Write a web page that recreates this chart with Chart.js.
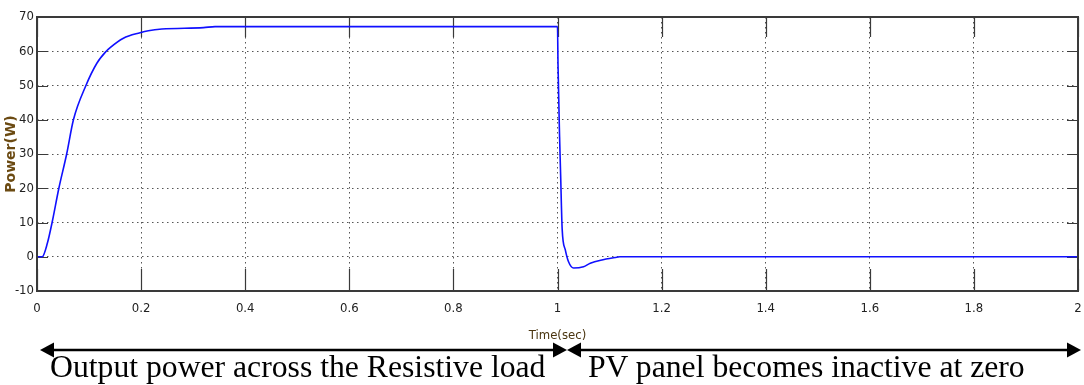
<!DOCTYPE html>
<html>
<head>
<meta charset="utf-8">
<title>Power(W) vs Time(sec)</title>
<script src="https://cdn.jsdelivr.net/npm/chart.js@4.4.1/dist/chart.umd.min.js"></script>
<style>
  html, body { margin: 0; padding: 0; background: #fff; overflow: hidden; }
  #wrap { position: relative; width: 1084px; height: 385px; }
  #chartBox { position: absolute; left: 0; top: 0; width: 1084px; height: 345px; }
  #arrows { position: absolute; left: 0; top: 0; }
  .note {
    position: absolute;
    font-family: "Liberation Serif", "Times New Roman", serif;
    font-size: 31.7px;
    line-height: 32px;
    color: #000;
    white-space: nowrap;
  }
</style>
</head>
<body>
<div id="wrap">
  <div id="chartBox"><canvas id="powerChart"></canvas></div>
  <svg id="arrows" width="1084" height="385">
    <g fill="#000" stroke="#000">
      <line x1="50" y1="350" x2="555" y2="350" stroke-width="2.5"/>
      <polygon points="40,350 54,342.5 54,357.5" stroke="none"/>
      <polygon points="567,350 553,342.5 553,357.5" stroke="none"/>
      <line x1="579" y1="350" x2="1070" y2="350" stroke-width="2.5"/>
      <polygon points="567,350 581,342.5 581,357.5" stroke="none"/>
      <polygon points="1081,350 1067,342.5 1067,357.5" stroke="none"/>
    </g>
  </svg>
  <div class="note" style="left:50px; top:351px;">Output power across the Resistive load</div>
  <div class="note" style="left:588px; top:351px;">PV panel becomes inactive at zero</div>
</div>

<script>
// values
const timeSec = [
    0, 0.01, 0.02, 0.029, 0.042, 0.057, 0.07, 0.094, 0.115, 0.133, 0.14,
    0.166, 0.198, 0.214, 0.24, 0.32, 0.342, 1.0,
    1.001, 1.004, 1.006, 1.009, 1.015, 1.021, 1.031, 1.05, 1.063, 1.083,
    1.111, 1.12, 2.0
];
const powerW = [
    0, 0, 4, 10, 20, 30, 40, 50, 56.5, 60, 61,
    63.8, 65.4, 66.0, 66.5, 66.9, 67.2, 67.2,
    56, 35, 24, 8, 2, -1.4, -3.3, -2.9, -1.9, -1.0,
    -0.2, 0, 0
];
const xTickValues = [0, 0.2, 0.4, 0.6, 0.8, 1, 1.2, 1.4, 1.6, 1.8, 2];
const yTickValues = [-10, 0, 10, 20, 30, 40, 50, 60, 70];

const tickFont = { family: "'Liberation Sans Narrow', 'DejaVu Sans Condensed', 'Arial Narrow', 'Liberation Sans', sans-serif", size: 13 };

// MATLAB style frame with ticks pointing inward
const matlabAxes = {
    id: 'matlabAxes',
    beforeDatasetsDraw(chart) {
        const { ctx, chartArea: a, scales: { x, y } } = chart;
        ctx.save();
        ctx.strokeStyle = '#3a3a3a';
        ctx.lineWidth = 1.2;
        ctx.setLineDash([]);
        ctx.beginPath();
        x.ticks.forEach(t => {
            const px = Math.round(x.getPixelForValue(t.value)) + 0.5;
            ctx.moveTo(px, a.bottom);
            ctx.lineTo(px, a.bottom - 22);
            ctx.moveTo(px, a.top);
            ctx.lineTo(px, a.top + 20);
        });
        y.ticks.forEach(t => {
            const py = Math.round(y.getPixelForValue(t.value)) + 0.5;
            ctx.moveTo(a.left, py);
            ctx.lineTo(a.left + 11, py);
            ctx.moveTo(a.right, py);
            ctx.lineTo(a.right - 11, py);
        });
        ctx.stroke();
        ctx.restore();
    },
    afterDatasetsDraw(chart) {
        const { ctx, chartArea: a } = chart;
        ctx.save();
        ctx.strokeStyle = '#3a3a3a';
        ctx.lineWidth = 2;
        ctx.setLineDash([]);
        ctx.strokeRect(a.left, a.top, a.right - a.left, a.bottom - a.top);
        ctx.restore();
    }
};

const ctx = document.getElementById('powerChart').getContext('2d');
window.powerChart = new Chart(ctx, {
    type: 'scatter',
    data: {
        datasets: [{
            label: 'Power(W)',
            data: timeSec.map((t, i) => ({ x: t, y: powerW[i] })),
            showLine: true,
            borderColor: '#1010ff',
            borderWidth: 1.6,
            pointRadius: 0,
            cubicInterpolationMode: 'monotone',
            fill: false
        }]
    },
    options: {
        responsive: true,
        maintainAspectRatio: false,
        animation: false,
        layout: {
            padding: { top: 17, right: 6, left: 0, bottom: 0 }
        },
        plugins: {
            legend: { display: false },
            tooltip: { enabled: false }
        },
        scales: {
            x: {
                type: 'linear',
                min: 0,
                max: 2,
                afterBuildTicks: scale => { scale.ticks = xTickValues.map(v => ({ value: v })); },
                afterFit: scale => {
                    scale.height = 54;
                    scale.paddingLeft = 0;
                    scale.paddingRight = 0;
                },
                ticks: {
                    color: '#222',
                    font: tickFont,
                    padding: 10,
                    maxRotation: 0,
                    callback: value => String(value)
                },
                grid: {
                    color: '#555',
                    lineWidth: 1,
                    drawTicks: false
                },
                border: { display: false, dash: [1.5, 3.5] },
                title: {
                    display: true,
                    text: 'Time(sec)',
                    color: '#4a3510',
                    font: { family: "'Liberation Sans Narrow', 'DejaVu Sans Condensed', 'Liberation Sans', sans-serif", size: 13 },
                    padding: { top: 0, bottom: 2 }
                }
            },
            y: {
                min: -10,
                max: 70,
                afterBuildTicks: scale => { scale.ticks = yTickValues.map(v => ({ value: v })); },
                afterFit: scale => { scale.width = 37; },
                ticks: {
                    color: '#222',
                    font: tickFont,
                    padding: 3,
                    callback: value => String(value)
                },
                grid: {
                    color: '#555',
                    lineWidth: 1,
                    drawTicks: false
                },
                border: { display: false, dash: [1.5, 3.5] },
                title: {
                    display: true,
                    text: 'Power(W)',
                    color: '#6b4a12',
                    font: { family: "'DejaVu Sans', sans-serif", size: 14, weight: 'bold' },
                    padding: { top: 3, bottom: 0 }
                }
            }
        }
    },
    plugins: [matlabAxes]
});
</script>
</body>
</html>
